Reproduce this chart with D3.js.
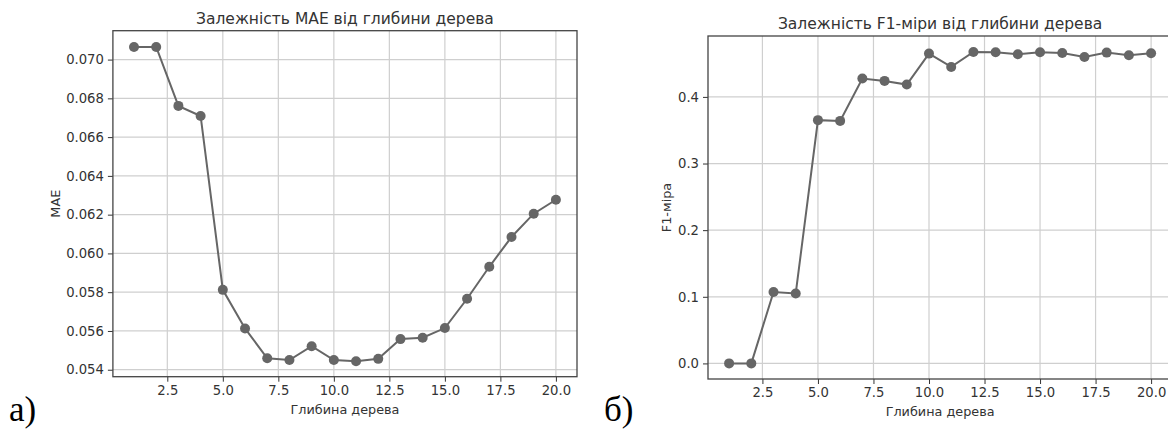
<!DOCTYPE html>
<html>
<head>
<meta charset="utf-8">
<script src="https://cdn.jsdelivr.net/npm/d3@7"></script>
<style>
  html, body { margin: 0; padding: 0; background: #fff; }
  svg { display: block; }
  text { font-family: "DejaVu Sans", sans-serif; fill: #333; }
</style>
</head>
<body>
<svg id="chart" width="1168" height="429"></svg>
<script>
// ---- Data ----
const depths = [1,2,3,4,5,6,7,8,9,10,11,12,13,14,15,16,17,18,19,20];
const maeValues = [0.07065,0.07065,0.06761,0.06709,0.05812,0.05613,0.05459,0.05450,0.05521,0.05450,
                   0.05444,0.05456,0.05558,0.05565,0.05615,0.05766,0.05931,0.06085,0.06205,0.06277];
const f1Values = [0.0,0.0,0.1071,0.1050,0.3651,0.3640,0.4275,0.4240,0.4185,0.4650,
                  0.4450,0.4675,0.4670,0.4640,0.4670,0.4660,0.4600,0.4665,0.4625,0.4655];
const xTicks = [2.5,5.0,7.5,10.0,12.5,15.0,17.5,20.0];
const maeTicks = [0.054,0.056,0.058,0.060,0.062,0.064,0.066,0.068,0.070];
const f1Ticks = [0.0,0.1,0.2,0.3,0.4];
const titles = ["Залежність MAE від глибини дерева", "Залежність F1-міри від глибини дерева"];
const yLabels = ["MAE", "F1-міра"];
const xLabel = "Глибина дерева";
const panelLabels = ["а)", "б)"];

const svg = d3.select("#chart");

function panel(cfg) {
  const g = svg.append("g");
  const x = d3.scaleLinear().domain([0.05, 20.95]).range([cfg.left, cfg.right]);
  const y = d3.scaleLinear().domain(cfg.yDomain).range([cfg.bottom, cfg.top]);

  // grid
  g.append("g").selectAll("line").data(cfg.xTicks).join("line")
    .attr("x1", d => x(d)).attr("x2", d => x(d))
    .attr("y1", cfg.top).attr("y2", cfg.bottom)
    .attr("stroke", "#cfcfcf").attr("stroke-width", 1.2);
  g.append("g").selectAll("line").data(cfg.yTicks).join("line")
    .attr("x1", cfg.left).attr("x2", cfg.right)
    .attr("y1", d => y(d)).attr("y2", d => y(d))
    .attr("stroke", "#cfcfcf").attr("stroke-width", 1.2);

  // axes
  const xAxis = d3.axisBottom(x).tickValues(cfg.xTicks).tickFormat(d3.format(".1f"))
    .tickSize(5).tickPadding(4);
  const yAxis = d3.axisLeft(y).tickValues(cfg.yTicks).tickFormat(d3.format(cfg.yFormat))
    .tickSize(5).tickPadding(4);
  const gx = g.append("g").attr("transform", `translate(0,${cfg.bottom})`).call(xAxis);
  const gy = g.append("g").attr("transform", `translate(${cfg.left},0)`).call(yAxis);
  [gx, gy].forEach(a => {
    a.select(".domain").remove();
    a.selectAll("line").attr("stroke", "#333").attr("stroke-width", 1);
    a.selectAll("text").attr("font-family", "DejaVu Sans").attr("font-size", 13.2).attr("fill", "#333");
  });

  // frame
  g.append("rect").attr("x", cfg.left).attr("y", cfg.top)
    .attr("width", cfg.right - cfg.left).attr("height", cfg.bottom - cfg.top)
    .attr("fill", "none").attr("stroke", "#444").attr("stroke-width", 1.3);

  // line + markers
  const pts = depths.map((d, i) => [d, cfg.values[i]]);
  g.append("path").datum(pts)
    .attr("d", d3.line().x(d => x(d[0])).y(d => y(d[1])))
    .attr("fill", "none").attr("stroke", "#666").attr("stroke-width", 2);
  g.append("g").selectAll("circle").data(pts).join("circle")
    .attr("cx", d => x(d[0])).attr("cy", d => y(d[1])).attr("r", 5)
    .attr("fill", "#666");

  // titles and labels
  g.append("text").attr("x", (cfg.left + cfg.right) / 2).attr("y", cfg.titleY)
    .attr("text-anchor", "middle").attr("font-size", 15.5).text(cfg.title);
  g.append("text").attr("x", (cfg.left + cfg.right) / 2).attr("y", cfg.xLabelY)
    .attr("text-anchor", "middle").attr("font-size", 12.8).text(xLabel);
  g.append("text")
    .attr("transform", `translate(${cfg.yLabelX},${(cfg.top + cfg.bottom) / 2}) rotate(-90)`)
    .attr("text-anchor", "middle").attr("font-size", 12.8).text(cfg.yLabel);
  g.append("text").attr("x", cfg.panelX).attr("y", 421)
    .attr("font-size", 35)
    .style("font-family", "'Liberation Serif', serif").style("fill", "#000")
    .text(cfg.panelLabel);
}

panel({id: 0, left: 112.9, right: 577, top: 30.7, bottom: 376.7,
       yDomain: [0.05364, 0.07149], yTicks: maeTicks, yFormat: ".3f", xTicks: xTicks,
       values: maeValues, title: titles[0], yLabel: yLabels[0],
       titleY: 23.5, xLabelY: 414, yLabelX: 59.5, panelX: 9, panelLabel: panelLabels[0]});
panel({id: 1, left: 708, right: 1172.2, top: 36, bottom: 379,
       yDomain: [-0.0234, 0.4914], yTicks: f1Ticks, yFormat: ".1f", xTicks: xTicks,
       values: f1Values, title: titles[1], yLabel: yLabels[1],
       titleY: 28.5, xLabelY: 416, yLabelX: 671, panelX: 604, panelLabel: panelLabels[1]});
</script>
</body>
</html>
